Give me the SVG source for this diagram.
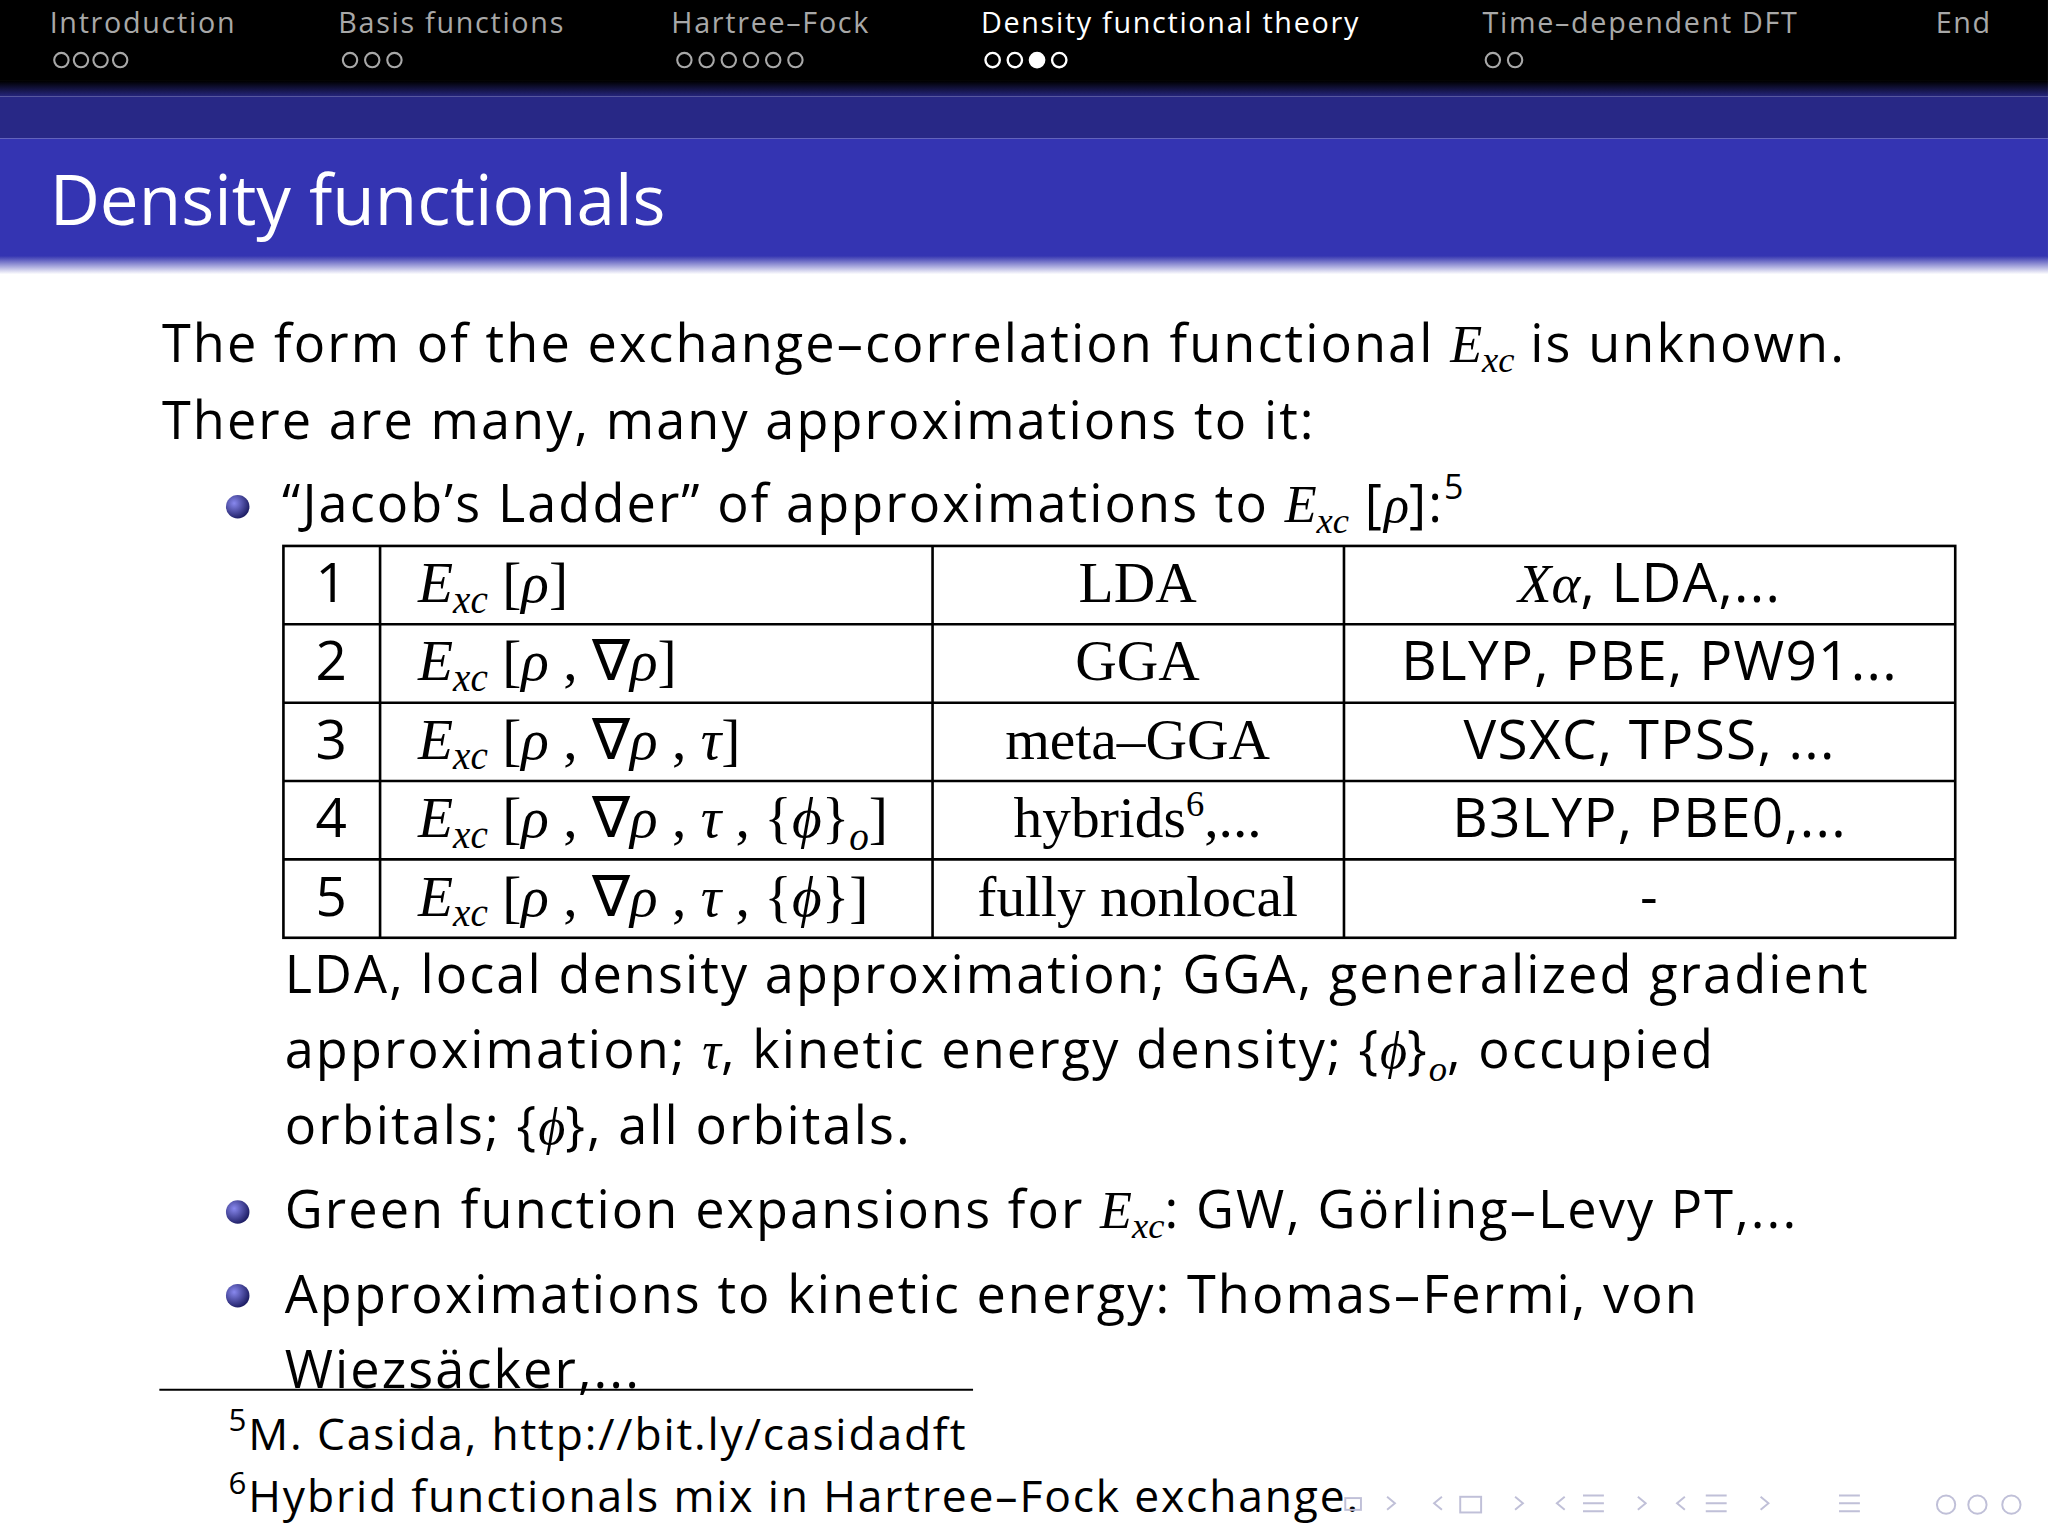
<svg xmlns="http://www.w3.org/2000/svg" width="2048" height="1536" viewBox="0 0 2048 1536">
<defs>
<linearGradient id="hd" x1="0" y1="0" x2="0" y2="1"><stop offset="0" stop-color="#000"/><stop offset="1" stop-color="#262680"/></linearGradient>
<linearGradient id="fd" x1="0" y1="0" x2="0" y2="1"><stop offset="0" stop-color="#3535b0"/><stop offset="1" stop-color="#fff"/></linearGradient>
<radialGradient id="bl" cx="0.35" cy="0.35" r="0.7"><stop offset="0" stop-color="#8888ee"/><stop offset="1" stop-color="#1a1a60"/></radialGradient>
<style>
.nav{font-family:"Open Sans","Noto Sans",sans-serif;font-size:22px;fill:#a8a8a8;letter-spacing:1.3px}
.act{fill:#fff}
.dot{fill:none;stroke:#a8a8a8;stroke-width:1.6}
.b{font-family:"Open Sans","Lato",sans-serif;font-size:40px;fill:#000;letter-spacing:1.6px}
.m{font-family:"Liberation Serif",serif;font-style:italic;letter-spacing:0}
.s{font-family:"Liberation Serif",serif;font-size:44px;fill:#000}
.c{font-family:"Open Sans","Lato",sans-serif;font-size:42px;fill:#000;letter-spacing:1px}
.f{font-family:"Open Sans","Lato",sans-serif;font-size:34px;fill:#000;letter-spacing:1.4px}
.ln{stroke:#000;stroke-width:2}
</style>
</defs>
<rect width="2048" height="1536" fill="#fff"/>
<g transform="scale(1.3061)">
<g id="header">
<rect x="0" y="0" width="1568" height="62" fill="#000"/>
<rect x="0" y="62" width="1568" height="12" fill="url(#hd)"/>
<rect x="0" y="74" width="1568" height="32" fill="#282886"/>
<rect x="0" y="106" width="1568" height="92" fill="#3434b2"/>
<rect x="0" y="196" width="1568" height="14" fill="url(#fd)"/>
<text class="nav" x="38" y="25">Introduction</text>
<text class="nav" x="259" y="25">Basis functions</text>
<text class="nav" x="514" y="25">Hartree–Fock</text>
<text class="nav act" x="751" y="25">Density functional theory</text>
<text class="nav" x="1135" y="25">Time–dependent DFT</text>
<text class="nav" x="1482" y="25">End</text>
<g class="dot">
<circle cx="47" cy="46" r="5.5"/><circle cx="62" cy="46" r="5.5"/><circle cx="77" cy="46" r="5.5"/><circle cx="92" cy="46" r="5.5"/>
<circle cx="268" cy="46" r="5.5"/><circle cx="285" cy="46" r="5.5"/><circle cx="302" cy="46" r="5.5"/>
<circle cx="524" cy="46" r="5.5"/><circle cx="541" cy="46" r="5.5"/><circle cx="558" cy="46" r="5.5"/><circle cx="575" cy="46" r="5.5"/><circle cx="592" cy="46" r="5.5"/><circle cx="609" cy="46" r="5.5"/>
<circle cx="1143" cy="46" r="5.5"/><circle cx="1160" cy="46" r="5.5"/>
</g>
<g stroke="#fff" stroke-width="1.8" fill="none">
<circle cx="760" cy="46" r="5.5"/><circle cx="777" cy="46" r="5.5"/><circle cx="794" cy="46" r="5.5" fill="#fff"/><circle cx="811" cy="46" r="5.5"/>
</g>
<text x="38" y="172" font-family="Open Sans,Lato,sans-serif" font-size="53" fill="#fff">Density functionals</text>
</g>
<g id="body">
<text class="b" x="124" y="277">The form of the exchange–correlation functional <tspan class="m">E</tspan><tspan class="m" font-size="28" dy="8">xc</tspan><tspan dy="-8"> is unknown.</tspan></text>
<text class="b" x="124" y="336">There are many, many approximations to it:</text>
<circle cx="182" cy="388" r="9" fill="url(#bl)"/>
<text class="b" x="216" y="400">“Jacob’s Ladder” of approximations to <tspan class="m">E</tspan><tspan class="m" font-size="28" dy="8">xc</tspan><tspan dy="-8"> [</tspan><tspan class="m">ρ</tspan>]:<tspan font-size="26" dy="-18">5</tspan></text>
</g>
<g id="table">
<rect x="217" y="418" width="1280" height="300" fill="none" class="ln"/>
<line class="ln" x1="217" y1="478" x2="1497" y2="478"/><line class="ln" x1="217" y1="538" x2="1497" y2="538"/>
<line class="ln" x1="217" y1="598" x2="1497" y2="598"/><line class="ln" x1="217" y1="658" x2="1497" y2="658"/>
<line class="ln" x1="291" y1="418" x2="291" y2="718"/><line class="ln" x1="714" y1="418" x2="714" y2="718"/><line class="ln" x1="1029" y1="418" x2="1029" y2="718"/>
<g class="c" text-anchor="middle">
<text x="254" y="461">1</text><text x="254" y="521">2</text><text x="254" y="581">3</text><text x="254" y="641">4</text><text x="254" y="701">5</text>
</g>
<g class="s">
<text x="320" y="461"><tspan class="m">E</tspan><tspan class="m" font-size="30" dy="8">xc</tspan><tspan dy="-8"> [</tspan><tspan class="m">ρ</tspan>]</text>
<text x="320" y="521"><tspan class="m">E</tspan><tspan class="m" font-size="30" dy="8">xc</tspan><tspan dy="-8"> [</tspan><tspan class="m">ρ</tspan> , ∇<tspan class="m">ρ</tspan>]</text>
<text x="320" y="581"><tspan class="m">E</tspan><tspan class="m" font-size="30" dy="8">xc</tspan><tspan dy="-8"> [</tspan><tspan class="m">ρ</tspan> , ∇<tspan class="m">ρ</tspan> , <tspan class="m">τ</tspan>]</text>
<text x="320" y="641"><tspan class="m">E</tspan><tspan class="m" font-size="30" dy="8">xc</tspan><tspan dy="-8"> [</tspan><tspan class="m">ρ</tspan> , ∇<tspan class="m">ρ</tspan> , <tspan class="m">τ</tspan> , {<tspan class="m">ϕ</tspan>}<tspan class="m" font-size="30" dy="10">o</tspan><tspan dy="-10">]</tspan></text>
<text x="320" y="701"><tspan class="m">E</tspan><tspan class="m" font-size="30" dy="8">xc</tspan><tspan dy="-8"> [</tspan><tspan class="m">ρ</tspan> , ∇<tspan class="m">ρ</tspan> , <tspan class="m">τ</tspan> , {<tspan class="m">ϕ</tspan>}]</text>
</g>
<g class="s" text-anchor="middle">
<text x="871" y="461">LDA</text><text x="871" y="521">GGA</text><text x="871" y="581">meta–GGA</text>
<text x="871" y="641">hybrids<tspan font-size="28" dy="-16">6</tspan><tspan dy="16">,...</tspan></text>
<text x="871" y="701">fully nonlocal</text>
</g>
<g class="c" text-anchor="middle">
<text x="1263" y="461"><tspan class="m" font-family="Liberation Serif">Xα</tspan>, LDA,...</text>
<text x="1263" y="521">BLYP, PBE, PW91...</text>
<text x="1263" y="581">VSXC, TPSS, ...</text>
<text x="1263" y="641">B3LYP, PBE0,...</text>
<text x="1263" y="701">-</text>
</g>
</g>
<g id="notes">
<text class="b" x="218" y="760">LDA, local density approximation; GGA, generalized gradient</text>
<text class="b" x="218" y="818">approximation; <tspan class="m">τ</tspan>, kinetic energy density; {<tspan class="m">ϕ</tspan>}<tspan class="m" font-size="28" dy="10">o</tspan><tspan dy="-10">, occupied</tspan></text>
<text class="b" x="218" y="876">orbitals; {<tspan class="m">ϕ</tspan>}, all orbitals.</text>
<circle cx="182" cy="928" r="9" fill="url(#bl)"/>
<text class="b" x="218" y="940">Green function expansions for <tspan class="m">E</tspan><tspan class="m" font-size="28" dy="8">xc</tspan><tspan dy="-8">:  GW, Görling–Levy PT,...</tspan></text>
<circle cx="182" cy="992" r="9" fill="url(#bl)"/>
<text class="b" x="218" y="1005">Approximations to kinetic energy:  Thomas–Fermi, von</text>
<text class="b" x="218" y="1063">Wiezsäcker,...</text>
<line x1="122" y1="1064" x2="745" y2="1064" stroke="#000" stroke-width="1.5"/>
<text class="f" x="175" y="1110"><tspan font-size="24" dy="-14">5</tspan><tspan dy="14">M. Casida, http://bit.ly/casidadft</tspan></text>
<text class="f" x="175" y="1158"><tspan font-size="24" dy="-14">6</tspan><tspan dy="14">Hybrid functionals mix in Hartree–Fock exchange.</tspan></text>
</g>
<g id="navicons" fill="none" stroke="#c0c0d8" stroke-width="1.5">
<rect x="1030" y="1147" width="12" height="9"/>
<path d="M1062 1146 l6 5 -6 5 M1104 1146 l-6 5 6 5 M1160 1146 l6 5 -6 5 M1198 1146 l-6 5 6 5 M1254 1146 l6 5 -6 5 M1290 1146 l-6 5 6 5 M1348 1146 l6 5 -6 5"/>
<rect x="1118" y="1146" width="16" height="12"/>
<path d="M1212 1145 h16 M1212 1151 h16 M1212 1157 h16 M1306 1145 h16 M1306 1151 h16 M1306 1157 h16 M1408 1145 h16 M1408 1151 h16 M1408 1157 h16"/>
<circle cx="1490" cy="1152" r="7"/><circle cx="1514" cy="1152" r="7"/><circle cx="1540" cy="1152" r="7"/>
</g>
</g>
</svg>
